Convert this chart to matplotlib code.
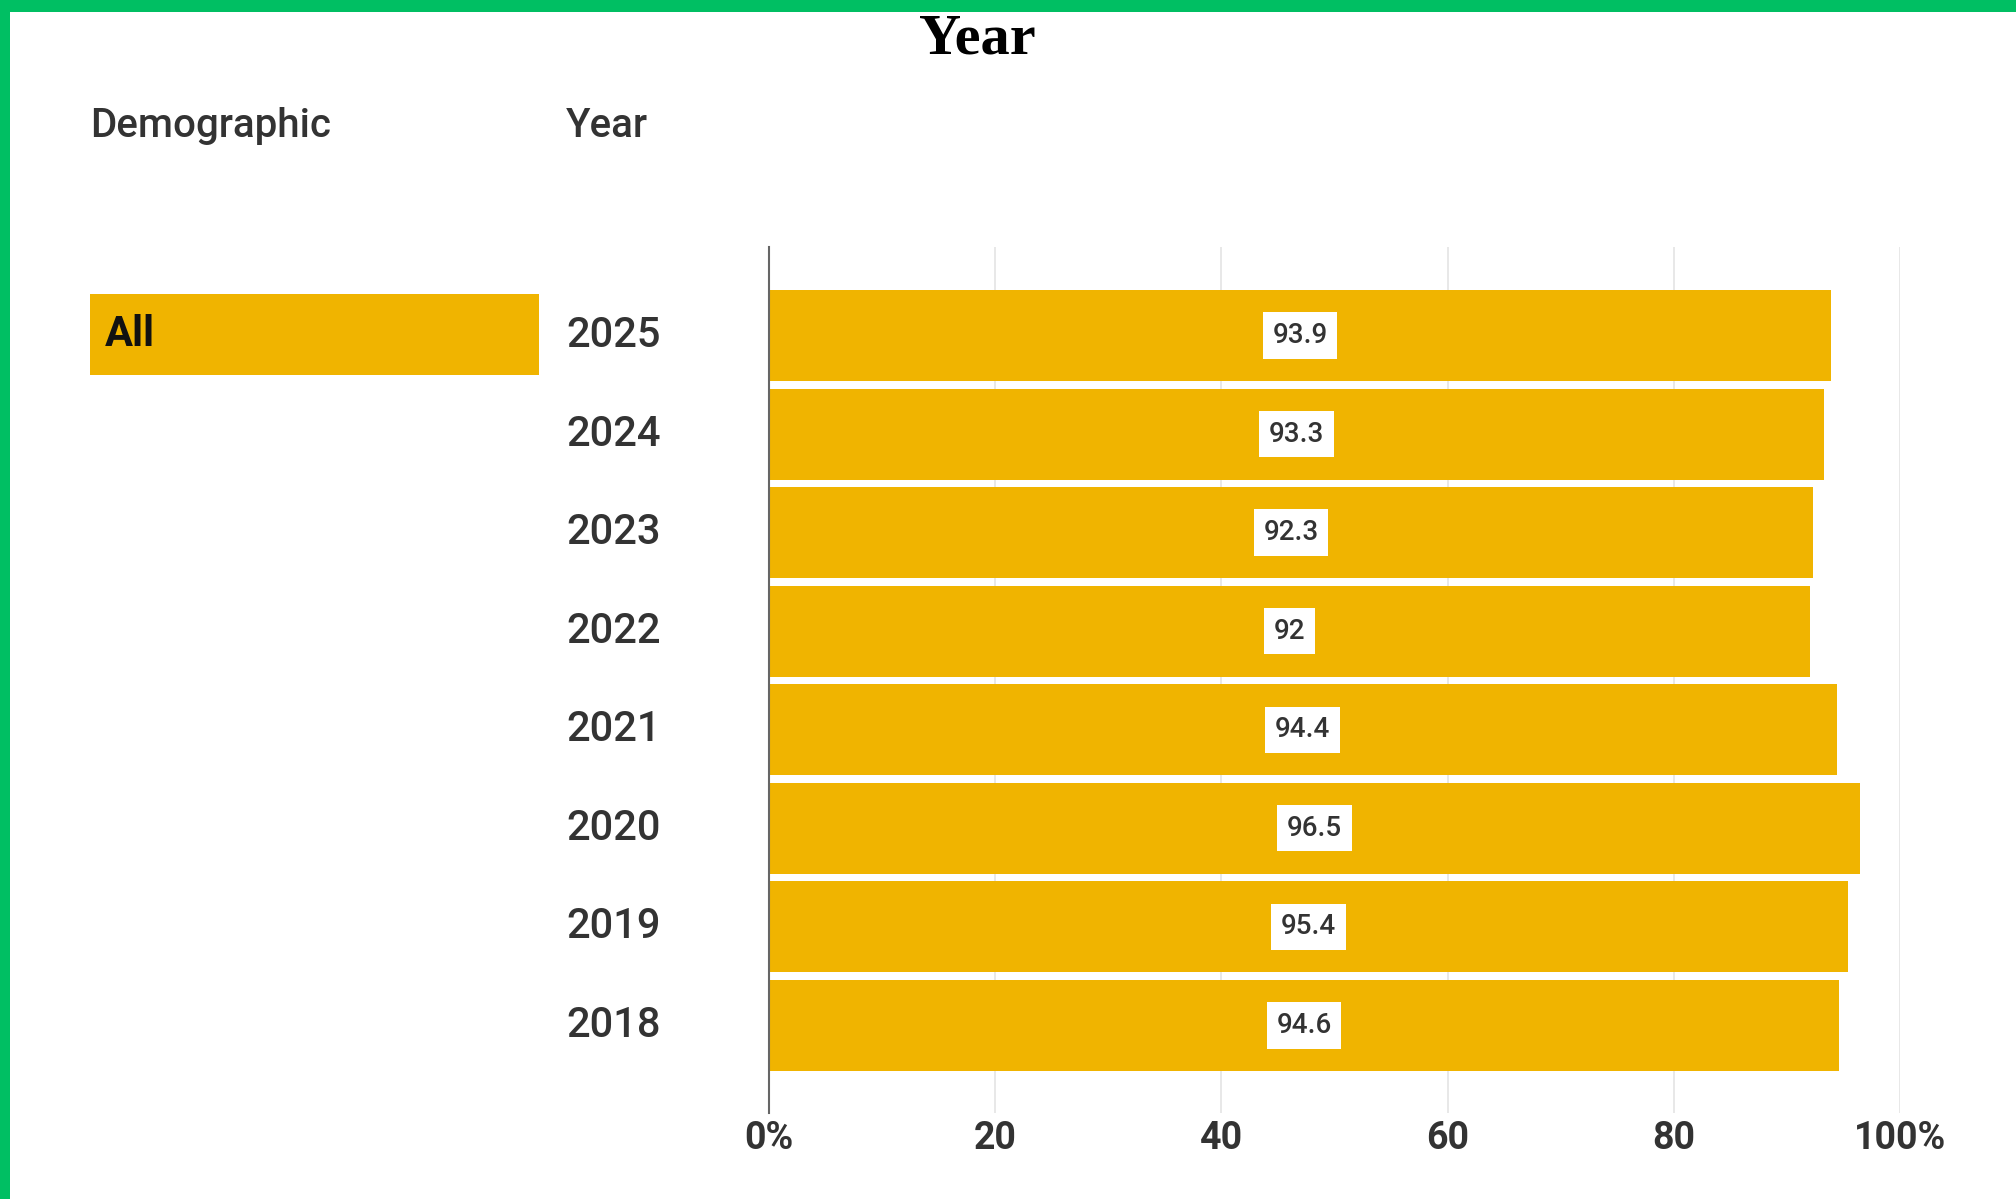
import matplotlib
matplotlib.use('Agg')
import matplotlib.pyplot as plt
import matplotlib.transforms as mtransforms
from matplotlib.patches import Rectangle

# data
demographics = ['All']
years = ['2018', '2019', '2020', '2021', '2022', '2023', '2024', '2025']
values = [94.6, 95.4, 96.5, 94.4, 92.0, 92.3, 93.3, 93.9]
x_ticks = [0, 20, 40, 60, 80, 100]
x_tick_labels = ['0%', '20', '40', '60', '80', '100%']

bar_color = '#F0B400'
text_color = '#333333'
green = '#00BF63'

plt.rcParams['font.family'] = ['Roboto', 'DejaVu Sans']

W, H = 2016, 1199
fig = plt.figure(figsize=(W / 100, H / 100), dpi=100)
fig.patch.set_facecolor('white')

# axes placed in pixel terms
left, right, top, bottom = 769, 1900, 247, 1113
ax = fig.add_axes([left / W, 1 - bottom / H, (right - left) / W, (bottom - top) / H])

pos = list(range(len(years)))
ax.barh(pos, values, height=0.92, color=bar_color, zorder=2)

for p, v in zip(pos, values):
	lbl = ('%g' % v)
	ax.text(v / 2, p, lbl, ha='center', va='center', fontsize=20, fontweight='medium',
		color=text_color, zorder=4,
		bbox=dict(boxstyle='square,pad=0.35', facecolor='white', edgecolor='none'))

ax.set_xlim(0, 100)
ax.set_ylim(-0.89, 7.9)
ax.set_xticks(x_ticks)
ax.set_xticklabels(x_tick_labels, fontsize=27, fontweight='bold', color=text_color)
ax.tick_params(axis='x', length=0, pad=5)
ax.set_yticks([])
ax.grid(axis='x', color='#e4e4e4', linewidth=1.2, zorder=0)
for s in ['top', 'right', 'bottom']:
	ax.spines[s].set_visible(False)
ax.spines['left'].set_color('#666666')
ax.spines['left'].set_linewidth(1.5)
ax.spines['left'].set_zorder(3)
ax.set_facecolor('none')

# year labels, left aligned in figure x
trans = mtransforms.blended_transform_factory(fig.transFigure, ax.transData)
for p, y in zip(pos, years):
	ax.text(566 / W, p, y, transform=trans, ha='left', va='center', fontsize=30,
		fontweight='medium', color=text_color, clip_on=False)

# demographic selector
row_h = 81
fig.patches.append(Rectangle((90 / W, 1 - 375 / H), (539 - 90) / W, row_h / H,
	transform=fig.transFigure, facecolor=bar_color, edgecolor='none', zorder=1))
fig.text(105 / W, 1 - 334 / H, demographics[0], ha='left', va='center', fontsize=30,
	fontweight='bold', color='#111111')

# headers
fig.text(90 / W, 1 - 126 / H, 'Demographic', ha='left', va='center', fontsize=29,
	fontweight='medium', color=text_color)
fig.text(566 / W, 1 - 126 / H, 'Year', ha='left', va='center', fontsize=29,
	fontweight='medium', color=text_color)

# title
fig.text(977 / W, 1 - 54 / H, 'Year', ha='center', va='baseline', fontsize=42,
	family='Liberation Serif', fontweight='bold', color='black', zorder=3)

# green frame
fig.patches.append(Rectangle((0, 1 - 12 / H), 1, 12 / H, transform=fig.transFigure,
	facecolor=green, edgecolor='none', zorder=10))
fig.patches.append(Rectangle((0, 0), 10 / W, 1, transform=fig.transFigure,
	facecolor=green, edgecolor='none', zorder=10))

fig.savefig('out.png', dpi=100)
plt.close()
